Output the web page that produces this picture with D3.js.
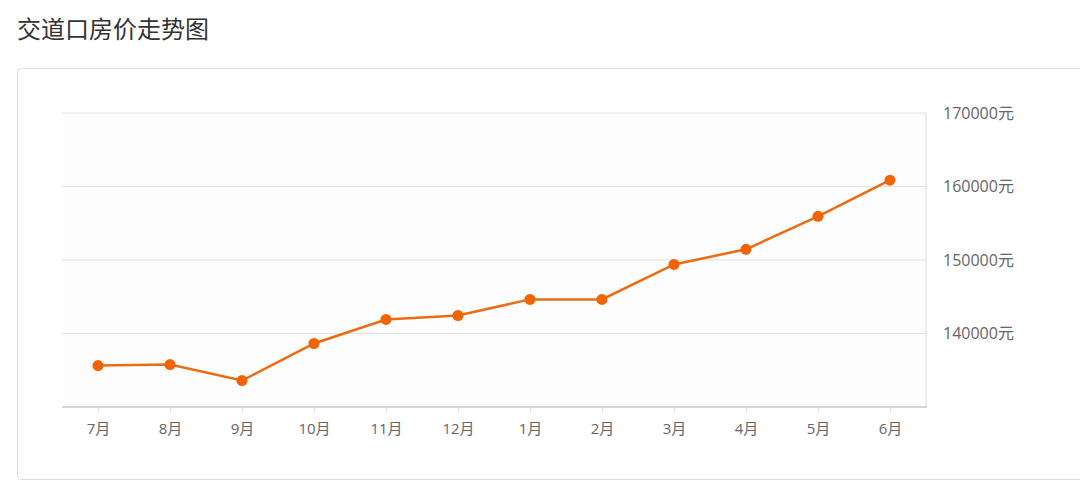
<!DOCTYPE html>
<html><head><meta charset="utf-8">
<script src="https://cdn.jsdelivr.net/npm/d3@7/dist/d3.min.js"></script>
<style>body{margin:0;background:#fff;font-family:"Noto Sans CJK SC","Open Sans",sans-serif;}</style>
</head><body><svg id="c" width="1080" height="481"></svg>
<script>
const months = ["7月","8月","9月","10月","11月","12月","1月","2月","3月","4月","5月","6月"];
const prices = [135640,135780,133600,138640,141910,142450,144640,144640,149400,151450,155950,160860];
const yTicks = [140000,150000,160000,170000];

const svg = d3.select("#c");
svg.append("text").attr("x",17).attr("y",38).attr("font-size",24).attr("fill","#333").text("交道口房价走势图");
svg.append("rect").attr("x",17.5).attr("y",68.5).attr("width",1080).attr("height",411).attr("rx",4)
  .attr("fill","#fff").attr("stroke","#ddd");

const L=62,R=926,T=113,B=407;
const x = d3.scalePoint().domain(months).range([L,R]).padding(0.5);
const y = d3.scaleLinear().domain([130000,170000]).range([B,T]);

svg.append("rect").attr("x",L).attr("y",T).attr("width",R-L).attr("height",B-T).attr("fill","#fdfdfd");
svg.append("g").selectAll("line").data(yTicks).join("line")
  .attr("x1",L).attr("x2",R).attr("y1",d=>y(d)).attr("y2",d=>y(d)).attr("stroke","#e3e3e3");
svg.append("line").attr("x1",R).attr("x2",R).attr("y1",T).attr("y2",B).attr("stroke","#ddd");
svg.append("line").attr("x1",L).attr("x2",R+1).attr("y1",B).attr("y2",B).attr("stroke","#d6d6d6").attr("stroke-width",2);

const ya = d3.axisRight(y).tickValues(yTicks).tickSize(0).tickFormat(d=>d+"元");
const gy = svg.append("g").attr("transform",`translate(${R+14},0)`).call(ya);
gy.select(".domain").remove();
gy.selectAll("text").attr("font-size",16).attr("fill","#666").attr("font-family","'Open Sans','Noto Sans CJK SC',sans-serif");

const xa = d3.axisBottom(x).tickSize(5).tickPadding(10);
const gx = svg.append("g").attr("transform",`translate(0,${B+1})`).call(xa);
gx.select(".domain").remove();
gx.selectAll("line").attr("stroke","#ddd");
gx.selectAll("text").attr("font-size",15).attr("fill","#666").attr("font-family","'Open Sans','Noto Sans CJK SC',sans-serif");

const line = d3.line().x((d,i)=>x(months[i])).y(d=>y(d));
svg.append("path").datum(prices).attr("d",line).attr("fill","none").attr("stroke","#ec6c12").attr("stroke-width",2.5);
svg.append("g").selectAll("circle").data(prices).join("circle")
  .attr("cx",(d,i)=>x(months[i])).attr("cy",d=>y(d)).attr("r",5.5).attr("fill","#f26306");
</script></body></html>
